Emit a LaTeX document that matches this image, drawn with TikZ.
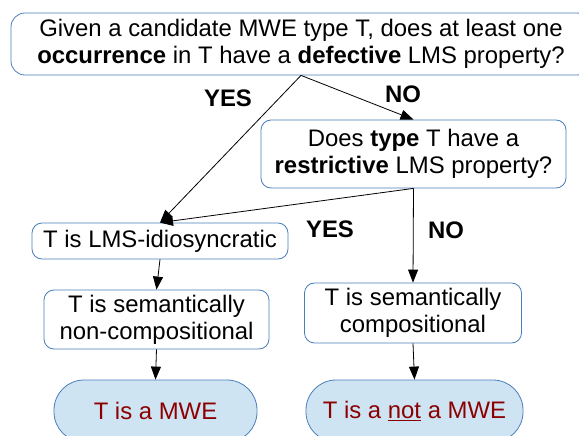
\documentclass[tikz,border=0pt]{standalone}
\usepackage{fontspec}
\setmainfont{Liberation Sans}
\usetikzlibrary{arrows.meta}
\definecolor{boxblue}{HTML}{4A7EBB}
\definecolor{endfill}{HTML}{CFE4F2}
\definecolor{endtext}{HTML}{8B0000}
\begin{document}
\begin{tikzpicture}[x=1pt,y=-1pt,line width=0.8pt,
  font=\fontsize{23.9}{27}\selectfont,
  box/.style={draw=boxblue,rounded corners=10pt,align=center,inner sep=0pt},
  term/.style={box,fill=endfill,text=endtext,rounded corners=30pt},
  answer/.style={font=\fontsize{23.9}{27}\selectfont\bfseries}]
  \useasboundingbox (0,0) rectangle (579,436);
  \node[box,minimum width=580pt,minimum height=62pt,rounded corners=14pt] (q1) at (301,44)
    {Given a candidate MWE type T, does at least one\\
     \textbf{occurrence} in T have a \textbf{defective} LMS property?};
  \node[box,minimum width=305pt,minimum height=68pt] (q2) at (413.5,154)
    {Does \textbf{type} T have a\\ \textbf{restrictive} LMS property?};
  \node[box,minimum width=256pt,minimum height=36pt] (idio) at (160,241) {T is LMS-idiosyncratic};
  \node[box,minimum width=225pt,minimum height=59pt] (noncomp) at (156.5,319.5)
    {T is semantically\\ non-compositional};
  \node[box,minimum width=217pt,minimum height=60pt] (comp) at (413,313)
    {T is semantically\\ compositional};
  \node[term,minimum width=203pt,minimum height=62pt] (mwe) at (155.5,411) {T is a MWE};
  \node[term,minimum width=217pt,minimum height=62pt] (notmwe) at (414.5,411)
    {T is a \underline{not} a MWE};
  \node[answer] (yes1) at (228,98) {YES};
  \node[answer] (no1) at (403,94) {NO};
  \node[answer] (yes2) at (330,229) {YES};
  \node[answer] (no2) at (446,230) {NO};
  \foreach \a/\b in {q1/idio, q1/q2, q2/idio, q2/comp, idio/noncomp, noncomp/mwe, comp/notmwe} {
    \draw[-{Triangle[length=13pt,width=10pt]}] (\a.south) -- (\b.north);
  }
\end{tikzpicture}
\end{document}
